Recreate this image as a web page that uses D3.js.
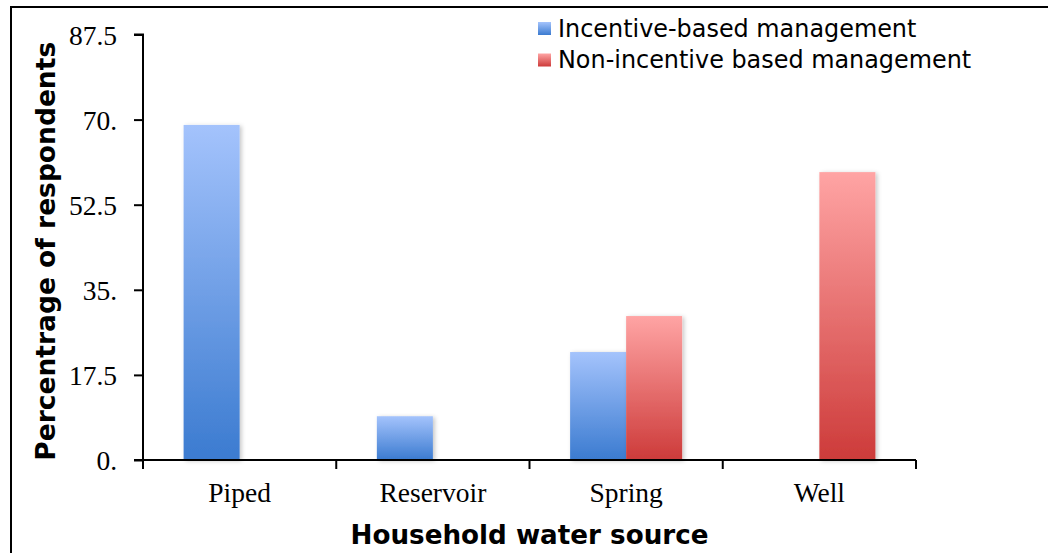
<!DOCTYPE html>
<html>
<head>
<meta charset="utf-8">
<script src="https://cdn.jsdelivr.net/npm/d3@7/dist/d3.min.js"></script>
<style>
  html, body { margin: 0; padding: 0; background: #fff; }
  svg { display: block; }
</style>
</head>
<body>
<svg id="chart" width="1048" height="553"></svg>
<script>
// Household water source by management type (% of respondents)
const categories = ["Piped", "Reservoir", "Spring", "Well"];
const seriesNames = ["Incentive-based management", "Non-incentive based management"];
const incentiveValues = [68.9, 9.0, 22.2, 0];
const nonIncentiveValues = [0, 0, 29.6, 59.2];
const yTickValues = [0, 17.5, 35, 52.5, 70, 87.5];
const yTickLabels = ["0.", "17.5", "35.", "52.5", "70.", "87.5"];

const svg = d3.select("#chart");
const W = 1048, H = 553;
const margin = { left: 143, right: 132, top: 34.5, bottom: 93 };
const plotBottom = H - margin.bottom;

// outer frame
svg.append("rect")
  .attr("x", 11).attr("y", 7)
  .attr("width", W + 20).attr("height", H + 20)
  .attr("fill", "none").attr("stroke", "#000").attr("stroke-width", 2);

const defs = svg.append("defs");
const gradStops = [
  { id: "gradBlue", top: "#a4c3fc", bottom: "#3b7bd0" },
  { id: "gradRed", top: "#ffa4a4", bottom: "#cd3b3a" }
];
gradStops.forEach(g => {
  const lg = defs.append("linearGradient").attr("id", g.id)
    .attr("x1", 0).attr("y1", 0).attr("x2", 0).attr("y2", 1);
  lg.append("stop").attr("offset", "0%").attr("stop-color", g.top);
  lg.append("stop").attr("offset", "100%").attr("stop-color", g.bottom);
});
const shadow = defs.append("filter").attr("id", "barShadow")
  .attr("x", "-20%").attr("y", "-10%").attr("width", "150%").attr("height", "130%");
shadow.append("feDropShadow")
  .attr("dx", 2).attr("dy", 1).attr("stdDeviation", 2)
  .attr("flood-color", "#000").attr("flood-opacity", 0.22);

const x = d3.scaleBand().domain(categories)
  .range([margin.left, W - margin.right]).paddingInner(0).paddingOuter(0);
const x1 = d3.scaleBand().domain(seriesNames)
  .range([0, x.bandwidth()]).paddingInner(0).paddingOuter(0.725);
const y = d3.scaleLinear().domain([0, 87.5]).range([plotBottom, margin.top]);

const color = d3.scaleOrdinal().domain(seriesNames).range(["url(#gradBlue)", "url(#gradRed)"]);

const rows = categories.map((c, i) => ({
  category: c,
  values: [
    { name: seriesNames[0], value: incentiveValues[i] },
    { name: seriesNames[1], value: nonIncentiveValues[i] }
  ]
}));

// bars
const groups = svg.append("g").selectAll("g").data(rows).join("g")
  .attr("transform", d => `translate(${x(d.category)},0)`);
groups.selectAll("rect").data(d => d.values.filter(v => v.value > 0)).join("rect")
  .attr("x", d => x1(d.name))
  .attr("width", x1.bandwidth())
  .attr("y", d => y(d.value))
  .attr("height", d => y(0) - y(d.value))
  .attr("fill", d => color(d.name))
  .attr("filter", "url(#barShadow)");

// y axis
const yAxis = d3.axisLeft(y).tickValues(yTickValues)
  .tickFormat((d, i) => yTickLabels[i]).tickSize(9).tickPadding(17);
const gy = svg.append("g").attr("transform", `translate(${margin.left},0)`).call(yAxis);
gy.select(".domain").attr("stroke", "#000").attr("stroke-width", 2)
  .attr("d", `M-9,${y(87.5)}H0V${y(0)}`);
gy.selectAll(".tick line").attr("stroke", "#000").attr("stroke-width", 2);
gy.selectAll(".tick text")
  .attr("font-family", "'Liberation Serif', serif")
  .attr("font-size", "27.5px").attr("fill", "#000")
  .attr("dy", "0.35em");

// x axis: line with boundary ticks between categories
const gx = svg.append("g");
gx.append("line")
  .attr("x1", margin.left - 9).attr("x2", W - margin.right)
  .attr("y1", y(0)).attr("y2", y(0))
  .attr("stroke", "#000").attr("stroke-width", 2);
const boundaries = categories.map(c => x(c)).concat([x(categories[categories.length - 1]) + x.bandwidth()]);
gx.selectAll("line.tk").data(boundaries).join("line").attr("class", "tk")
  .attr("x1", d => d).attr("x2", d => d)
  .attr("y1", y(0)).attr("y2", y(0) + 9)
  .attr("stroke", "#000").attr("stroke-width", 2);
gx.selectAll("text").data(categories).join("text")
  .attr("x", d => x(d) + x.bandwidth() / 2)
  .attr("y", 502)
  .attr("text-anchor", "middle")
  .attr("font-family", "'Liberation Serif', serif")
  .attr("font-size", "27.5px").attr("fill", "#000")
  .text(d => d);

// axis titles
svg.append("text")
  .attr("x", (margin.left + W - margin.right) / 2).attr("y", 544)
  .attr("text-anchor", "middle")
  .attr("font-family", "'DejaVu Sans', sans-serif").attr("font-weight", "bold")
  .attr("font-size", "26.2px").attr("fill", "#000")
  .text("Household water source");
svg.append("text")
  .attr("transform", `translate(55,${(y(0) + y(87.5)) / 2 + 4}) rotate(-90)`)
  .attr("text-anchor", "middle")
  .attr("font-family", "'DejaVu Sans', sans-serif").attr("font-weight", "bold")
  .attr("font-size", "26.5px").attr("fill", "#000")
  .text("Percentrage of respondents");

// legend
const legend = svg.append("g").attr("transform", "translate(538,22)");
const li = legend.selectAll("g").data(seriesNames).join("g")
  .attr("transform", (d, i) => `translate(0,${i * 31.5})`);
li.append("rect").attr("width", 13).attr("height", 13)
  .attr("fill", d => color(d));
li.append("text").attr("x", 20).attr("y", 14.5)
  .attr("font-family", "'DejaVu Sans', sans-serif")
  .attr("font-size", "23.9px").attr("fill", "#000")
  .text(d => d);
</script>
</body>
</html>
